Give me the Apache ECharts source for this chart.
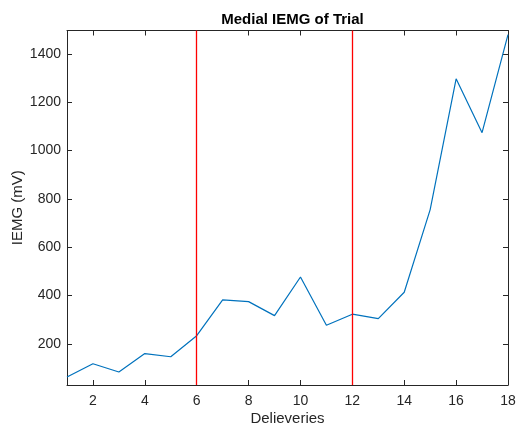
<!DOCTYPE html>
<html>
<head>
<meta charset="utf-8">
<script src="https://cdn.jsdelivr.net/npm/echarts@6/dist/echarts.min.js"></script>
<style>html,body{margin:0;padding:0;background:#fff;}#c{width:516px;height:426px;}</style>
</head>
<body>
<div id="c"></div>
<script>
const deliveries = [1,2,3,4,5,6,7,8,9,10,11,12,13,14,15,16,17,18];
const iemg = [63,118,84,160,147,234,382,375,317,477,277,323,305,414,756,1297,1074,1480];
const markerX = [6,12];
const xTicks = [2,4,6,8,10,12,14,16,18];
const yTicks = [200,400,600,800,1000,1200,1400];
const xRange = [1,18];
const yRange = [30,1497];

const axisColor = '#262626';
const font = 'Liberation Sans, Arial, Helvetica, sans-serif';

const chart = echarts.init(document.getElementById('c'), null, {renderer:'canvas'});
function xAx(pos, showLabels, extra) {
  return Object.assign({
    type:'value', position:pos, min:xRange[0], max:xRange[1],
    axisLine:{show:true, onZero:false, lineStyle:{color:axisColor, width:1}},
    axisTick:{show:true, inside:true, length:5, customValues:xTicks, lineStyle:{color:axisColor}},
    axisLabel:{show:showLabels, customValues:xTicks, formatter:v=>String(v), color:axisColor, fontSize:14, fontFamily:font, margin:9},
    splitLine:{show:false}
  }, extra||{});
}
function yAx(pos, showLabels, extra) {
  return Object.assign({
    type:'value', position:pos, min:yRange[0], max:yRange[1],
    axisLine:{show:true, onZero:false, lineStyle:{color:axisColor, width:1}},
    axisTick:{show:true, inside:true, length:5, customValues:yTicks, lineStyle:{color:axisColor}},
    axisLabel:{show:showLabels, customValues:yTicks, formatter:v=>String(v), color:axisColor, fontSize:14, fontFamily:font, margin:6},
    splitLine:{show:false}
  }, extra||{});
}
chart.setOption({
  animation:false,
  backgroundColor:'#fff',
  title:{text:'Medial IEMG of Trial', left:287.5, textAlign:'center', top:7,
    textStyle:{fontSize:15, fontWeight:'bold', color:'#000', fontFamily:font}},
  grid:{left:67, right:8, top:30.5, bottom:41, containLabel:false, outerBoundsMode:'none'},
  xAxis:[
    xAx('bottom', true, {name:'Delieveries', nameLocation:'middle', nameGap:26, nameMoveOverlap:false,
      nameTextStyle:{fontSize:15, color:axisColor, fontFamily:font}}),
    xAx('top', false)
  ],
  yAxis:[
    yAx('left', true, {name:'IEMG (mV)', nameLocation:'middle', nameGap:42, nameRotate:90, nameMoveOverlap:false,
      nameTextStyle:{fontSize:15, color:axisColor, fontFamily:font}}),
    yAx('right', false)
  ],
  series:[{
    type:'line',
    data:deliveries.map((d,i)=>[d, iemg[i]]),
    showSymbol:false, symbol:'none',
    lineStyle:{color:'#0072BD', width:1.2},
    markLine:{
      silent:true, symbol:['none','none'], label:{show:false},
      emphasis:{disabled:true},
      lineStyle:{color:'#FF0000', width:1.3, type:'solid', opacity:1},
      data:markerX.map(v=>({xAxis:v}))
    }
  }]
});
</script>
</body>
</html>
